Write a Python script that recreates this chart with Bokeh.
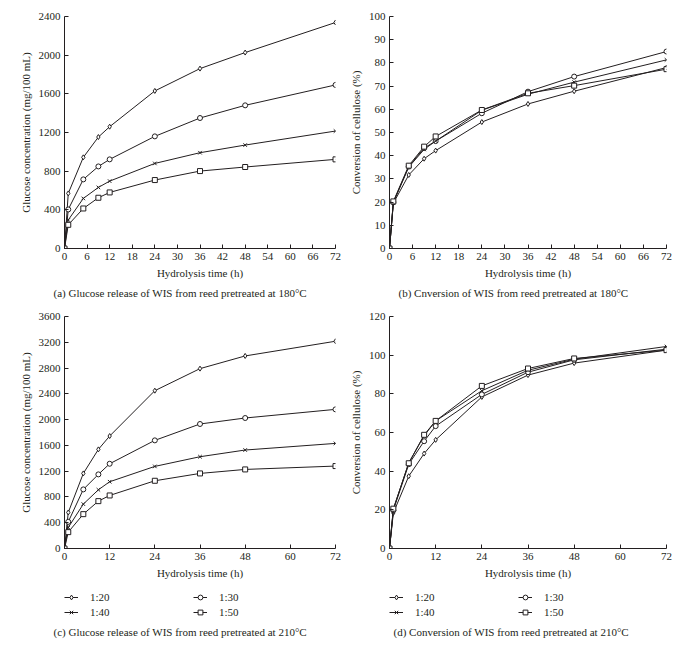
from bokeh.plotting import figure
from bokeh.models import Range1d, FixedTicker, Title, Legend, LegendItem
from bokeh.layouts import column, row
from bokeh.embed import file_html
from bokeh.resources import INLINE

# ---------------- data ----------------
hours = [0, 1, 5, 9, 12, 24, 36, 48, 72]
ratios = ["1:20", "1:30", "1:40", "1:50"]
markers = ["diamond", "circle", "x", "square"]

# (a) glucose, 180 C (mg/100 mL)
glu180_r20 = [0, 570, 943, 1153, 1260, 1630, 1861, 2027, 2338]
glu180_r30 = [0, 404, 715, 849, 922, 1160, 1350, 1481, 1692]
glu180_r40 = [0, 295, 518, 632, 697, 880, 991, 1070, 1215]
glu180_r50 = [0, 245, 414, 525, 580, 708, 801, 843, 922]

# (b) conversion, 180 C (%)
conv180_r20 = [0, 19.5, 31.7, 38.7, 42.2, 54.5, 62.3, 67.8, 78.0]
conv180_r30 = [0, 20.0, 35.3, 43.3, 46.3, 58.3, 67.6, 74.1, 84.9]
conv180_r40 = [0, 19.8, 35.1, 42.7, 46.3, 59.6, 66.5, 71.7, 81.3]
conv180_r50 = [0, 20.3, 35.7, 43.9, 48.3, 59.7, 66.9, 70.2, 77.3]

# (c) glucose, 210 C (mg/100 mL)
glu210_r20 = [0, 559, 1165, 1538, 1745, 2449, 2791, 2988, 3216]
glu210_r30 = [0, 414, 917, 1150, 1315, 1678, 1932, 2025, 2159]
glu210_r40 = [0, 326, 689, 911, 1036, 1274, 1424, 1528, 1631]
glu210_r50 = [0, 254, 533, 735, 823, 1051, 1165, 1227, 1279]

# (d) conversion, 210 C (%)
conv210_r20 = [0, 18.4, 37.4, 49.1, 56.2, 78.4, 89.7, 95.9, 102.6]
conv210_r30 = [0, 19.8, 43.6, 55.5, 63.3, 79.7, 91.2, 97.6, 103.1]
conv210_r40 = [0, 20.3, 44.3, 58.3, 66.0, 81.6, 92.2, 97.9, 104.5]
conv210_r50 = [0, 20.6, 44.1, 58.8, 66.0, 84.1, 93.1, 98.3, 102.6]

FONT = "Liberation Serif"
INK = "#231f20"


def add_series(p, series):
    items = []
    for name, mk, vals in zip(ratios, markers, series):
        ln = p.line(hours, vals, line_color=INK, line_width=1)
        sc = p.scatter(hours, vals, marker=mk, size=5, line_color=INK,
                       fill_color="white", line_width=1)
        items.append(LegendItem(label=name, renderers=[ln, sc]))
    return items


def add_caption(p, caption, cap_offset, cap_standoff):
    t = Title(text=caption, align="left", offset=cap_offset,
              standoff=cap_standoff,
              text_font=FONT, text_font_size="11px",
              text_font_style="normal", text_color=INK)
    p.add_layout(t, "below")


def make_panel(series, y_end, y_step, x_step, y_label, frame_w,
               b_left, b_right, b_top, b_bottom):
    p = figure(frame_width=frame_w, frame_height=232,
               x_range=Range1d(0, 72), y_range=Range1d(0, y_end),
               output_backend="svg", toolbar_location=None,
               min_border_left=b_left, min_border_right=b_right,
               min_border_top=b_top, min_border_bottom=b_bottom,
               outline_line_color=None)
    p.grid.visible = False
    for ax in (p.xaxis[0], p.yaxis[0]):
        ax.axis_line_color = INK
        ax.major_tick_line_color = INK
        ax.major_tick_in = 4
        ax.major_tick_out = 0
        ax.minor_tick_line_color = None
        ax.major_label_text_font = FONT
        ax.major_label_text_font_size = "11px"
        ax.major_label_text_color = INK
        ax.axis_label_text_font = FONT
        ax.axis_label_text_font_size = "11px"
        ax.axis_label_text_font_style = "normal"
        ax.axis_label_text_color = INK
        ax.major_label_standoff = 4
        ax.axis_label_standoff = 4
    p.xaxis.ticker = FixedTicker(ticks=list(range(0, 73, x_step)))
    p.yaxis.ticker = FixedTicker(ticks=list(range(0, y_end + 1, y_step)))
    p.xaxis.axis_label = "Hydrolysis time (h)"
    p.yaxis.axis_label = y_label
    add_series(p, series)
    return p


def make_legend_fig(series, frame_w, b_left, b_right, caption, cap_offset):
    # legend strip: the series are drawn outside the visible range so only
    # the legend entries (which reuse the renderers' styles) are seen
    q = figure(frame_width=frame_w, frame_height=33,
               x_range=Range1d(-20, -10), y_range=Range1d(-20, -10),
               output_backend="svg", toolbar_location=None,
               x_axis_location=None, y_axis_location=None,
               min_border_left=b_left, min_border_right=b_right,
               min_border_top=0, min_border_bottom=19,
               outline_line_color=None)
    q.grid.visible = False
    items = add_series(q, series)
    lg = Legend(items=items, ncols=2, orientation="horizontal",
                location=(0, 1),
                border_line_color=None, background_fill_color=None,
                background_fill_alpha=0,
                label_text_font=FONT, label_text_font_size="11px",
                label_text_color=INK, glyph_width=14, glyph_height=12,
                label_height=12, label_width=100, label_standoff=12,
                spacing=3, padding=0, margin=0)
    q.add_layout(lg, "center")
    add_caption(q, caption, cap_offset, 8)
    return q


pa = make_panel([glu180_r20, glu180_r30, glu180_r40, glu180_r50], 2400, 400, 6,
                "Glucose concentration (mg/100 mL)", 271, 64, 11, 16, 60)
add_caption(pa, "(a)  Glucose release of WIS from reed pretreated at 180°C", -11, 7)

pb = make_panel([conv180_r20, conv180_r30, conv180_r40, conv180_r50], 100, 10, 6,
                "Conversion of cellulose (%)", 277, 43, 18, 16, 60)
add_caption(pb, "(b)  Cnversion of WIS from reed pretreated at 180°C", 9, 7)

series_c = [glu210_r20, glu210_r30, glu210_r40, glu210_r50]
pc = make_panel(series_c, 3600, 400, 12,
                "Glucose concentration (mg/100 mL)", 271, 64, 11, 8, 38)
lc = make_legend_fig(series_c, 271, 64, 11,
                     "(c)  Glucose release of WIS from reed pretreated at 210°C", -11)

series_d = [conv210_r20, conv210_r30, conv210_r40, conv210_r50]
pd = make_panel(series_d, 120, 20, 12,
                "Conversion of cellulose (%)", 277, 43, 18, 8, 38)
ld = make_legend_fig(series_d, 277, 43, 18,
                     "(d)  Conversion of WIS from reed pretreated at 210°C", 4)

layout = column(row(pa, pb), row(column(pc, lc), column(pd, ld)))
open("out.html", "w").write(file_html(layout, INLINE))
